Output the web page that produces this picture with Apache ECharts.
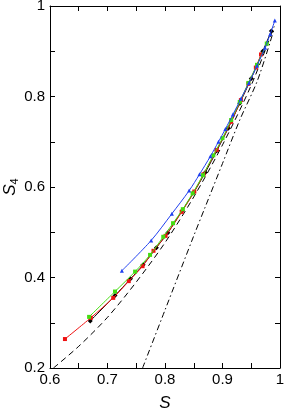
<!DOCTYPE html>
<html><head><meta charset="utf-8">
<script src="https://cdn.jsdelivr.net/npm/echarts@6/dist/echarts.min.js"></script>
<style>html,body{margin:0;padding:0;background:#fff}#c{width:285px;height:410px}</style>
</head><body><div id="c"></div>
<script>
// Data
const dashedCurve = [[0.606,0.200],[0.65,0.248],[0.70,0.312],[0.75,0.390],[0.80,0.477],[0.85,0.578],[0.90,0.693],[0.95,0.825],[0.99,0.955]];
const dashDotCurve = [[0.761,0.200],[0.80,0.328],[0.85,0.492],[0.87,0.556],[0.90,0.652],[0.93,0.748],[0.961,0.836],[0.99,0.950]];
const blackSeries = [[0.670,0.304],[0.713,0.360],[0.740,0.397],[0.762,0.428],[0.785,0.466],[0.805,0.499],[0.830,0.548],[0.850,0.588],[0.870,0.632],[0.890,0.680],[0.910,0.730],[0.930,0.785],[0.950,0.840],[0.970,0.900],[0.985,0.945]];
const redSeries = [[0.626,0.264],[0.671,0.311],[0.710,0.355],[0.737,0.392],[0.761,0.425],[0.780,0.459],[0.801,0.492],[0.829,0.545],[0.851,0.590],[0.867,0.628],[0.890,0.682],[0.915,0.744],[0.932,0.792],[0.945,0.828],[0.958,0.864],[0.967,0.893]];
const greenSeries = [[0.668,0.313],[0.713,0.369],[0.748,0.413],[0.774,0.450],[0.797,0.490],[0.814,0.520],[0.831,0.551],[0.848,0.586],[0.866,0.626],[0.884,0.670],[0.900,0.708],[0.915,0.748],[0.930,0.788],[0.945,0.830],[0.960,0.870],[0.977,0.917]];
const blueSeries = [[0.725,0.415],[0.776,0.482],[0.812,0.541],[0.842,0.592],[0.860,0.628],[0.879,0.668],[0.893,0.700],[0.905,0.728],[0.918,0.760],[0.932,0.795],[0.946,0.830],[0.960,0.868],[0.974,0.908],[0.983,0.938],[0.991,0.968]];
const xTicks = {min:0.6, max:1.0, interval:0.1};
const yTicks = {min:0.2, max:1.0, interval:0.2};

const font = 'Liberation Sans, Arial, sans-serif';
const chart = echarts.init(document.getElementById('c'), null, {renderer:'canvas'});
const axisCommon = {
  axisLine:{show:true, lineStyle:{color:'#000', width:1}},
  axisTick:{show:true, inside:true, length:5, lineStyle:{color:'#000'}},
  minorTick:{show:true, splitNumber:2, length:5, lineStyle:{color:'#000'}},
  splitLine:{show:false}, minorSplitLine:{show:false}
};
function ln(data, color, symbol, size, z){
  return {type:'line', data, smooth:0.3, showSymbol:true, symbol, symbolSize:size,
    lineStyle:{color, width:1}, itemStyle:{color}, z, animation:false, clip:true};
}
chart.setOption({
  animation:false,
  grid:{left:50, right:5, top:6, bottom:42, containLabel:false, outerBoundsMode:'none'},
  xAxis:[
    Object.assign({type:'value', position:'bottom', min:xTicks.min, max:xTicks.max, interval:xTicks.interval,
      name:'S', nameLocation:'middle', nameGap:27, nameMoveOverlap:false,
      nameTextStyle:{fontFamily:font, fontSize:17, fontStyle:'italic', color:'#000'},
      axisLabel:{fontFamily:font, fontSize:15, color:'#000', margin:4}}, axisCommon),
    Object.assign({type:'value', position:'top', min:xTicks.min, max:xTicks.max, interval:xTicks.interval,
      axisLabel:{show:false}}, axisCommon)
  ],
  yAxis:[
    Object.assign({type:'value', position:'left', min:yTicks.min, max:yTicks.max, interval:yTicks.interval,
      name:'{a|S}{b|4}', nameLocation:'middle', nameGap:30, nameRotate:90, nameMoveOverlap:false,
      nameTextStyle:{rich:{a:{fontFamily:font, fontSize:17, fontStyle:'italic', color:'#000', lineHeight:20},
                           b:{fontFamily:font, fontSize:11, color:'#000', verticalAlign:'bottom', lineHeight:20}}},
      axisLabel:{fontFamily:font, fontSize:15, color:'#000', margin:5}}, axisCommon),
    Object.assign({type:'value', position:'right', min:yTicks.min, max:yTicks.max, interval:yTicks.interval,
      axisLabel:{show:false}}, axisCommon)
  ],
  series:[
    {type:'line', data:dashedCurve, smooth:0.3, showSymbol:false, lineStyle:{color:'#000', width:1, type:[6,4]}, z:1},
    {type:'line', data:dashDotCurve, smooth:0.3, showSymbol:false, lineStyle:{color:'#000', width:1, type:[6,3,1.5,3]}, z:1},
    ln(blackSeries, '#000000', 'diamond', 5, 2),
    ln(redSeries, '#ee1111', 'rect', 4, 3),
    ln(greenSeries, '#44dd11', 'rect', 4, 4),
    ln(blueSeries, '#1f3fef', 'triangle', 4, 5)
  ]
});
</script></body></html>
